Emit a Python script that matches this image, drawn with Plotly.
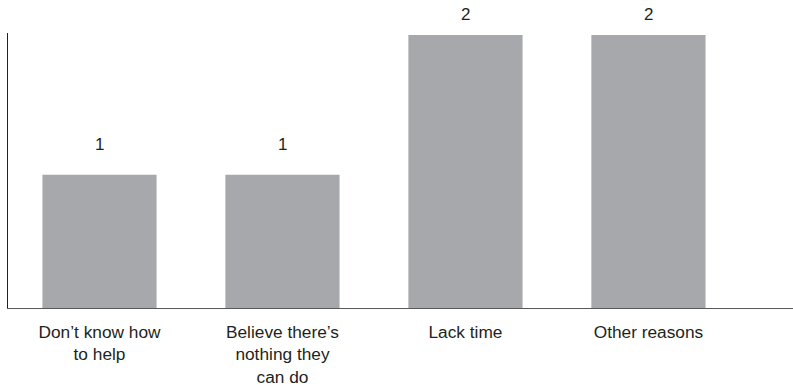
import plotly.graph_objects as go

categories = ["Don’t know how<br>to help", "Believe there’s<br>nothing they<br>can do", "Lack time", "Other reasons"]
values = [1.0, 1.0, 2.05, 2.05]
value_labels = ["1", "1", "2", "2"]
label_shift = [19, 19, 9, 9]

BAR = "#a7a8ab"
TXT = "#231f20"
FONT = "Liberation Sans, Arial, sans-serif"

fig = go.Figure()
fig.add_trace(go.Bar(
    x=categories, y=values, marker=dict(color=BAR, line=dict(width=0)),
    width=0.624, hoverinfo="skip",
))
for c, v, t, s in zip(categories, values, value_labels, label_shift):
    fig.add_annotation(x=c, y=v, text=t, showarrow=False, yanchor="bottom",
                       yshift=s, font=dict(size=17, color=TXT, family=FONT))

fig.update_layout(
    width=793, height=391,
    margin=dict(l=8, r=0, t=33, b=83),
    plot_bgcolor="white", paper_bgcolor="white",
    showlegend=False,
    font=dict(family=FONT, size=17, color=TXT),
    xaxis=dict(range=[-0.5, 3.79], showline=True, linecolor="#58595b", linewidth=1.3,
               ticks="", showgrid=False, zeroline=False, ticklabelstandoff=8,
               tickfont=dict(size=17.3, color=TXT)),
    yaxis=dict(range=[0, 2.065], showline=True, linecolor="#231f20", linewidth=1.3,
               showticklabels=False, ticks="", showgrid=False, zeroline=False),
)
fig.write_html("out.html")
